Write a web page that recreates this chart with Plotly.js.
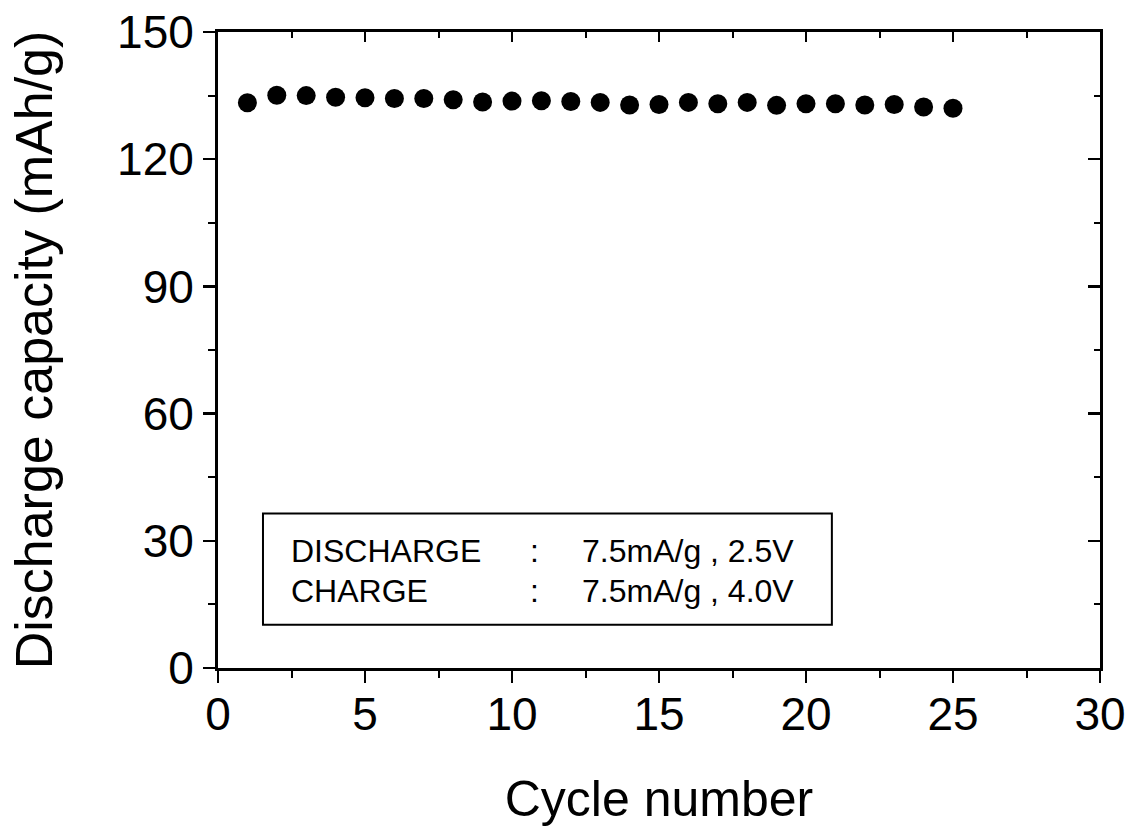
<!DOCTYPE html>
<html>
<head>
<meta charset="utf-8">
<script src="https://cdn.plot.ly/plotly-3.0.1.min.js"></script>
<style>html,body{margin:0;padding:0;background:#fff;}#chart{width:1137px;height:838px;}</style>
</head>
<body>
<div id="chart"></div>
<script>
const cycles = [1,2,3,4,5,6,7,8,9,10,11,12,13,14,15,16,17,18,19,20,21,22,23,24,25];
const capacity = [133.3,135.1,135.0,134.6,134.5,134.3,134.3,134.0,133.5,133.7,133.8,133.6,133.4,132.8,132.9,133.4,133.1,133.4,132.7,133.1,133.1,132.8,132.9,132.3,132.0];
const noteLabels = ["DISCHARGE", "CHARGE"];
const noteValues = ["7.5mA/g , 2.5V", "7.5mA/g , 4.0V"];
const xTitle = "Cycle number";
const yTitle = "Discharge capacity (mAh/g)";

const font = "Liberation Sans, Arial, sans-serif";

const traces = [
  {x: cycles, y: capacity, type: 'scatter', mode: 'markers',
   marker: {symbol: 'circle', size: 19, color: '#000'}, showlegend: false, hoverinfo: 'x+y'},
  {x: [], y: [], xaxis: 'x2', yaxis: 'y2', type: 'scatter', mode: 'markers', showlegend: false}
];

const annotations = [];
const rowY = [0.184, 0.121];
noteLabels.forEach((t, i) => {
  annotations.push({xref: 'paper', yref: 'paper', x: 0.0805, y: rowY[i], xanchor: 'left', yanchor: 'middle',
    text: t, showarrow: false, font: {family: font, size: 32, color: '#000'}});
  annotations.push({xref: 'paper', yref: 'paper', x: 0.352, y: rowY[i], xanchor: 'left', yanchor: 'middle',
    text: ':', showarrow: false, font: {family: font, size: 32, color: '#000'}});
  annotations.push({xref: 'paper', yref: 'paper', x: 0.410, y: rowY[i], xanchor: 'left', yanchor: 'middle',
    text: noteValues[i], showarrow: false, font: {family: font, size: 32, color: '#000'}});
});

const axisCommon = {
  showgrid: false, zeroline: false, showline: true, linecolor: '#000', linewidth: 3,
  tickcolor: '#000', tickwidth: 2.5, ticklen: 12
};

const layout = {
  width: 1137, height: 838,
  margin: {l: 218, r: 37, t: 32, b: 170},
  paper_bgcolor: '#fff', plot_bgcolor: '#fff',
  font: {family: font, color: '#000'},
  xaxis: Object.assign({}, axisCommon, {
    range: [0, 30], dtick: 5, tick0: 0, ticks: 'outside',
    tickfont: {family: font, size: 46, color: '#000'},
    ticklabelstandoff: -8,
    minor: {dtick: 2.5, ticks: 'outside', ticklen: 7, tickwidth: 2, tickcolor: '#000'},
    title: {text: xTitle, font: {family: font, size: 50, color: '#000'}, standoff: 42}
  }),
  yaxis: Object.assign({}, axisCommon, {
    range: [0, 150], dtick: 30, tick0: 0, ticks: 'outside',
    tickfont: {family: font, size: 46, color: '#000'},
    minor: {dtick: 15, ticks: 'outside', ticklen: 7, tickwidth: 2, tickcolor: '#000'},
    title: {text: yTitle, font: {family: font, size: 52, color: '#000'}, standoff: 48}
  }),
  xaxis2: Object.assign({}, axisCommon, {
    overlaying: 'x', side: 'top', range: [0, 30], dtick: 5, tick0: 0, ticks: 'inside',
    showticklabels: false, ticklen: 10,
    minor: {dtick: 2.5, ticks: 'inside', ticklen: 6, tickwidth: 2, tickcolor: '#000'}
  }),
  yaxis2: Object.assign({}, axisCommon, {
    overlaying: 'y', side: 'right', range: [0, 150], dtick: 30, tick0: 0, ticks: 'inside',
    showticklabels: false, ticklen: 12,
    minor: {dtick: 15, ticks: 'inside', ticklen: 6, tickwidth: 2, tickcolor: '#000'}
  }),
  shapes: [
    {type: 'rect', xref: 'paper', yref: 'paper', x0: 0.051, x1: 0.696, y0: 0.068, y1: 0.243,
     line: {color: '#000', width: 2}, fillcolor: 'rgba(0,0,0,0)'}
  ],
  annotations: annotations
};

Plotly.newPlot('chart', traces, layout, {displayModeBar: false, staticPlot: true});
</script>
</body>
</html>
